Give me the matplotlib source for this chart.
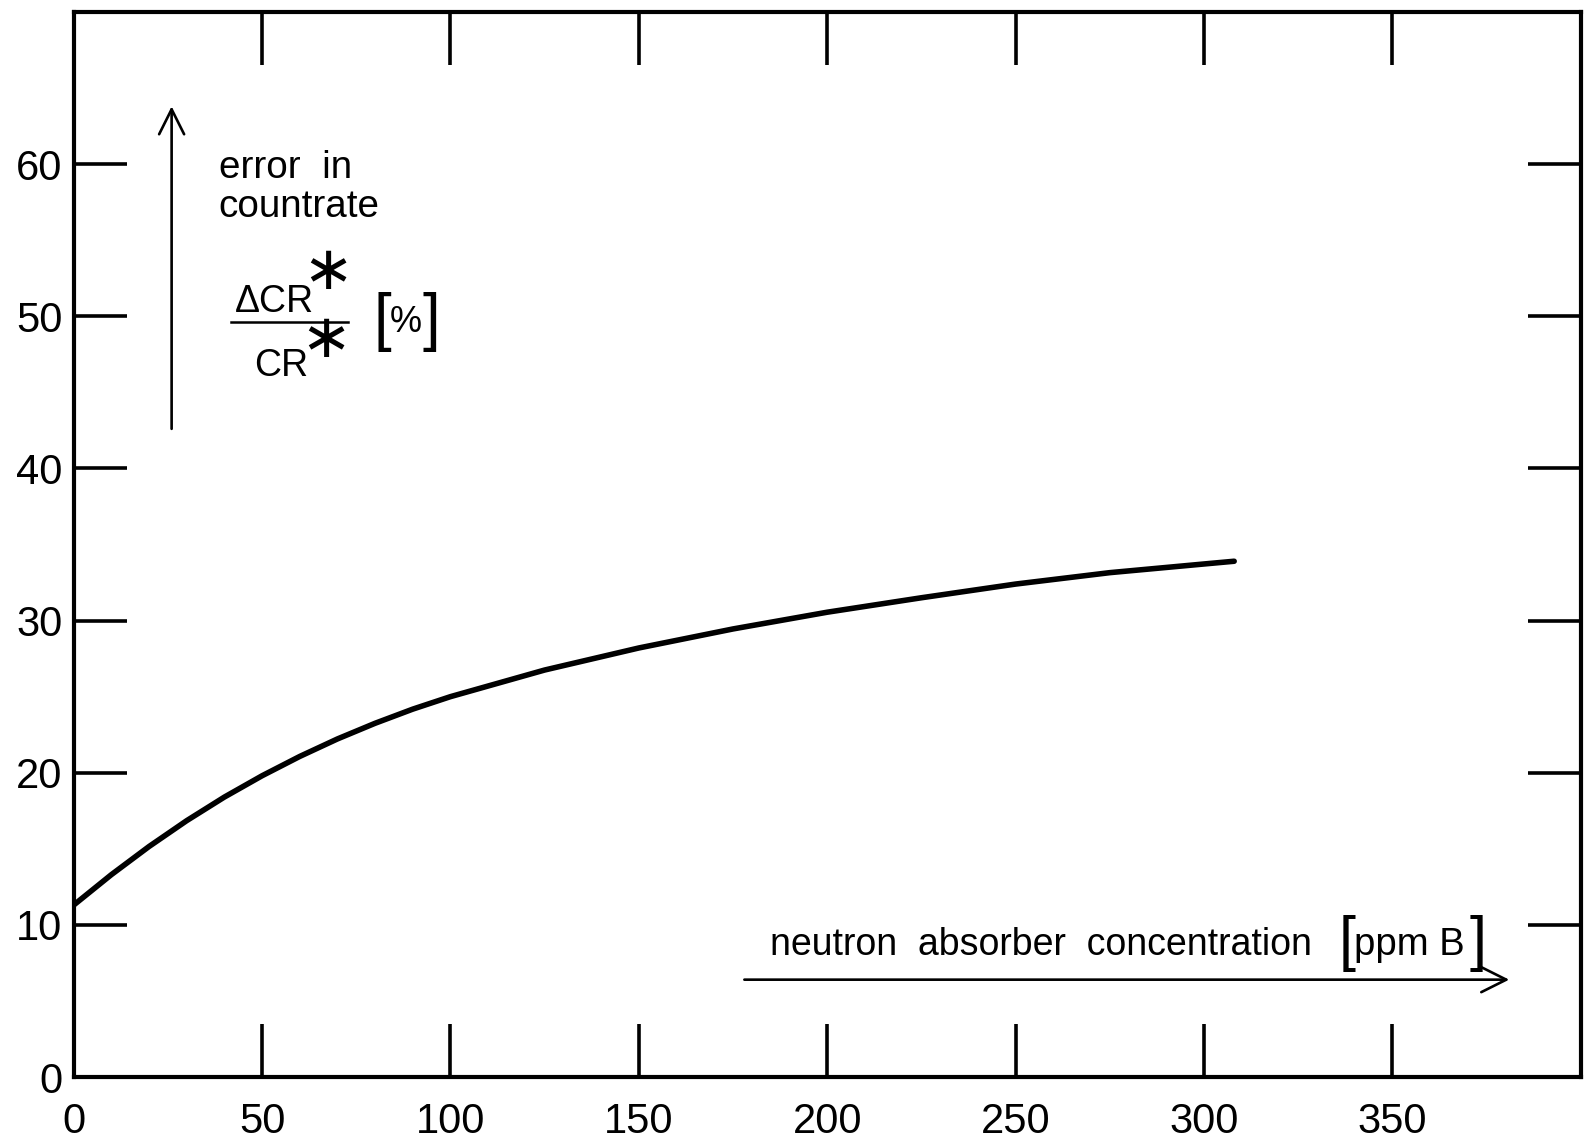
import matplotlib.pyplot as plt

# -------------------------
# Data
# -------------------------

boron_ppm = [0, 10, 20, 30, 40, 50, 60, 70, 80, 90, 100, 125, 150, 175,
             200, 225, 250, 275, 300, 308]
error_pct = [11.3, 13.3, 15.15, 16.85, 18.4, 19.8, 21.07, 22.22, 23.25, 24.18,
             25.0, 26.75, 28.2, 29.45, 30.55, 31.5, 32.4, 33.15, 33.72, 33.9]

x_ticks = [0, 50, 100, 150, 200, 250, 300, 350]
y_ticks = [0, 10, 20, 30, 40, 50, 60]

plt.rcParams['font.family'] = ['Liberation Sans', 'DejaVu Sans']

fig = plt.figure(figsize=(15.84, 11.39), dpi=100)
ax = fig.add_axes([0.0465, 0.0544, 0.9515, 0.9351])

ax.plot(boron_ppm, error_pct, color='black', lw=4.0,
        solid_capstyle='round', solid_joinstyle='round')

ax.set_xlim(0, 400)
ax.set_ylim(0, 70)
ax.set_xticks(x_ticks)
ax.set_yticks(y_ticks)

for s in ax.spines.values():
    s.set_linewidth(3)

ax.tick_params(axis='both', which='major', direction='in', length=38, width=2.6,
               top=True, right=True, labelsize=30, color='black')
ax.tick_params(axis='x', pad=18)
ax.tick_params(axis='y', pad=8)

# -------------------------
# Axis annotations
# -------------------------

arrow = dict(arrowstyle='->,head_length=0.6,head_width=0.3', lw=1.9,
             color='black', mutation_scale=30, shrinkA=0, shrinkB=0)

# y direction
ax.annotate('', xy=(26, 63.8), xytext=(26, 42.6), arrowprops=arrow)
ax.text(38.5, 59.1, 'error  in', fontsize=27.8, va='baseline')
ax.text(38.5, 56.5, 'countrate', fontsize=27.8, va='baseline')

ax.text(42.8, 50.3, '\u0394CR', fontsize=27, va='baseline')
ax.plot([41.8, 72.8], [49.6, 49.6], color='black', lw=1.8)
ax.text(47.9, 46.1, 'CR', fontsize=27, va='baseline')
ax.text(67.4, 52.9, '\u2217', fontsize=44, ha='center', va='center',
        family='DejaVu Sans')
ax.text(67.0, 48.4, '\u2217', fontsize=44, ha='center', va='center',
        family='DejaVu Sans')
ax.text(79.6, 49.6, '[', fontsize=46, va='center')
ax.text(83.8, 49.6, '%', fontsize=26, va='center')
ax.text(92.6, 49.6, ']', fontsize=46, va='center')

# x direction
ax.annotate('', xy=(381, 6.4), xytext=(178, 6.4), arrowprops=arrow)
ax.text(184.8, 8.0, 'neutron  absorber  concentration', fontsize=27,
        va='baseline')
ax.text(335.6, 8.8, '[', fontsize=44, va='center')
ax.text(339.8, 8.0, 'ppm B', fontsize=27.5, va='baseline')
ax.text(370.4, 8.8, ']', fontsize=44, va='center')

plt.savefig('out.png', dpi=100)
